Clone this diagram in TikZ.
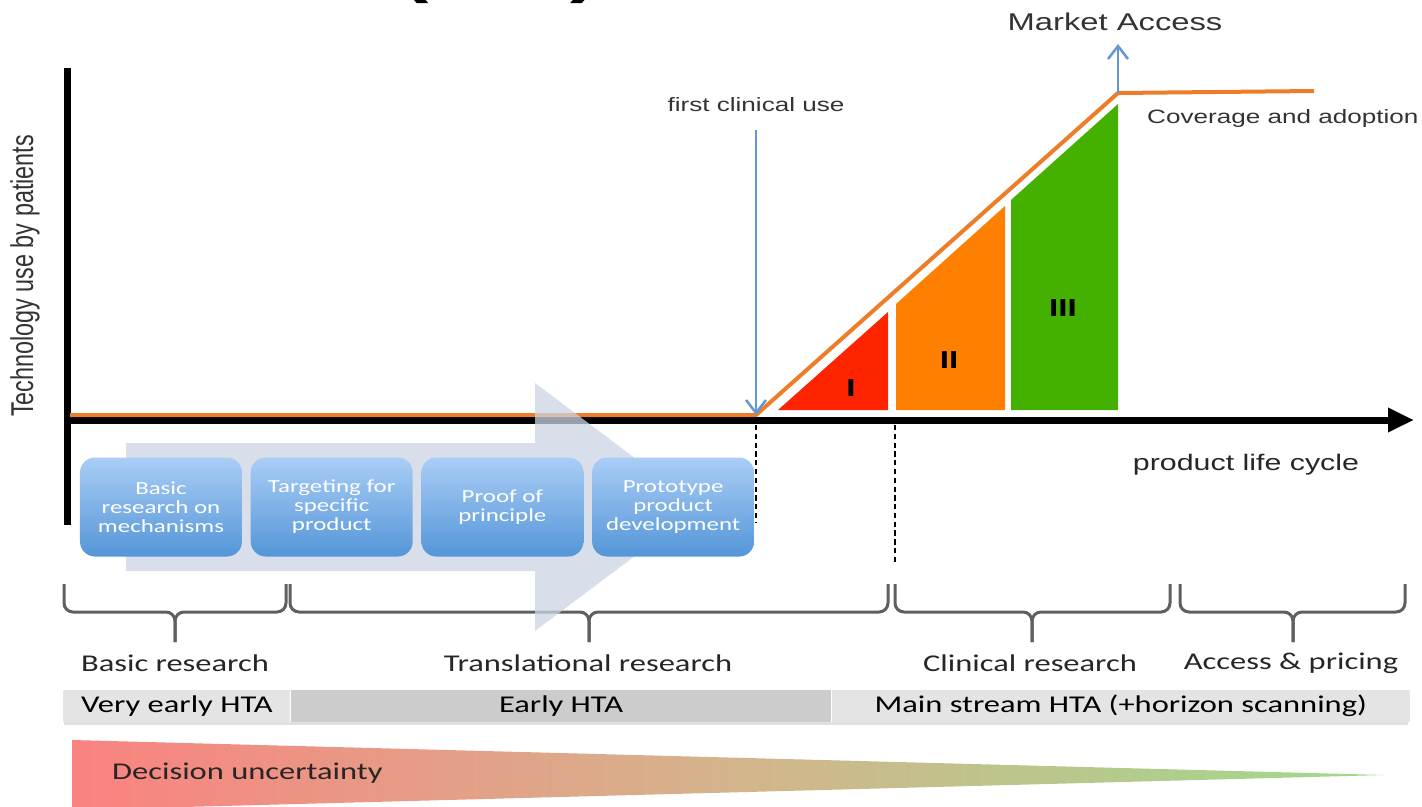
\documentclass[tikz,border=0pt]{standalone}
\usepackage{fontspec}
\setmainfont{Liberation Sans}
\newfontfamily\arialf[FakeStretch=1.35]{Liberation Sans}
\newfontfamily\calf[FakeStretch=1.35]{Carlito}
\usepackage{xcolor}
\usetikzlibrary{positioning,arrows.meta}

\definecolor{uptakeorange}{RGB}{237,125,40}
\definecolor{markerblue}{RGB}{100,152,210}
\definecolor{phaseone}{RGB}{255,36,0}
\definecolor{phasetwo}{RGB}{255,127,0}
\definecolor{phasethree}{RGB}{68,176,0}
\definecolor{flowgray}{RGB}{203,212,227}
\definecolor{boxtop}{RGB}{170,205,246}
\definecolor{boxbottom}{RGB}{84,150,216}
\definecolor{bracegray}{RGB}{95,95,95}
\definecolor{barlight}{RGB}{228,228,228}
\definecolor{bardark}{RGB}{204,204,204}
\definecolor{wedgeleft}{RGB}{250,130,128}
\definecolor{wedgemid}{RGB}{212,180,140}
\definecolor{wedgeright}{RGB}{158,218,140}

\begin{document}
\begin{tikzpicture}[x=0.2mm, y=-0.2mm,
    axis/.style={line width=1.4mm},
    uptake/.style={draw=uptakeorange, line width=0.8mm, line join=round},
    marker/.style={draw=markerblue, line width=0.5mm, -{Straight Barb[length=2.6mm,width=4mm]}},
    guide/.style={densely dashed, line width=0.3mm},
    stagebox/.style={rounded corners=3mm, top color=boxtop, bottom color=boxbottom,
        minimum width=32.4mm, minimum height=19.8mm, inner sep=1pt, align=center,
        text=white, font=\calf\fontsize{10.5}{10.8}\selectfont},
    phase/.style={draw=bracegray, line width=0.6mm, rounded corners=1.8mm},
    lbl/.style={font=\calf\fontsize{13.7}{14}\selectfont, text=black!85},
    toplbl/.style={font=\arialf\fontsize{11}{12}\selectfont, text=black!80},
    roman/.style={font=\arialf\bfseries\fontsize{14}{14}\selectfont},
    htabar/.style={minimum height=6.4mm, inner sep=0pt, anchor=west, font=\calf\fontsize{13.7}{14}\selectfont}
]
    \useasboundingbox (0,0) rectangle (1422,806);

    % Cut-off title
    \node[font=\arialf\bfseries\fontsize{36}{36}\selectfont, anchor=base] at (415,-10) {(};
    \node[font=\arialf\bfseries\fontsize{36}{36}\selectfont, anchor=base] at (585,-10) {)};

    % Key points
    \coordinate (origin) at (67,420);
    \coordinate (clin) at (756,415);
    \coordinate (ma) at (1118,93);
    \coordinate (matip) at (1118,44);

    % Phases I-III
    \fill[phaseone] (778,410) -- (888,410) -- (888,312) -- cycle;
    \fill[phasetwo] (896,410) -- (1005,410) -- (1005,206) -- (896,304) -- cycle;
    \fill[phasethree] (1011,410) -- (1118,410) -- (1118,104) -- (1011,200) -- cycle;
    \node[roman] (p1) at (851,388) {I};
    \node[roman] (p2) at (949,360) {II};
    \node[roman] (p3) at (1063,308) {III};

    % Axes
    \draw[axis] (67,68) -- (67,525);
    \draw[axis, -{Triangle[length=5.2mm,width=4.6mm]}] (origin) -- (1414,420);

    % Uptake curve
    \draw[uptake] (70,415) -- (clin) -- (ma) -- (1314,91);

    % Labels
    \node[font=\arialf\fontsize{13.8}{14}\selectfont, text=black!80] (malbl) at (1115,22) {Market Access};
    \node[toplbl] (fcu) at (756,105) {first clinical use};
    \node[toplbl, anchor=west] (cov) at (1141,118) {Coverage and adoption};
    \node[font=\arialf\fontsize{12.8}{13}\selectfont, text=black!85] (plc) at (1246,465) {product life cycle};
    \node[font=\fontsize{13.3}{14}\selectfont, text=black!80, rotate=90] (tup) at (25,276)
        {\scalebox{1}[1.35]{Technology use by patients}};

    \draw[marker] (ma) -- (matip);
    \draw[marker] (fcu.south) ++(0,12) -- (clin);

    % Dashed markers
    \draw[guide] (756,425) -- (756,523);
    \draw[guide] (895,425) -- (895,565);

    % Braces
    \foreach \a/\m/\b in {64/175/286, 290/589/888, 895/1032/1170, 1180/1293/1405} {
        \draw[phase] (\a,584) -- (\a,612) -- (\m,612) -- (\m,642);
        \draw[phase] (\b,584) -- (\b,612) -- (\m,612) -- (\m,642);
    }
    \node[lbl] (basic) at (175,663) {Basic research};
    \node[lbl] (trans) at (588,663) {Translational research};
    \node[lbl] (clinical) at (1030,663) {Clinical research};
    \node[lbl] (access) at (1291,663) {Access \& pricing};

    % Big process arrow
    \fill[flowgray, opacity=0.75] (126,443) -- (535,443) -- (535,383) -- (700,507)
        -- (535,631) -- (535,571) -- (126,571) -- cycle;

    % Stages
    \node[stagebox] (s1) at (161,507) {Basic\\research on\\mechanisms};
    \node[stagebox, right=1.6mm of s1] (s2) {Targeting for\\specific\\product};
    \node[stagebox, right=1.6mm of s2] (s3) {Proof of\\principle};
    \node[stagebox, right=1.6mm of s3] (s4) {Prototype\\product\\development};

    % HTA bar
    \fill[black!12] (64,722) rectangle (1408,725);
    \node[htabar, fill=barlight, minimum width=45.4mm] (vhta) at (63,706) {Very early HTA};
    \node[htabar, fill=bardark, minimum width=108mm, right=0pt of vhta] (ehta) {Early HTA};
    \node[htabar, fill=barlight, minimum width=115.6mm, right=0pt of ehta] (mhta) {Main stream HTA (+horizon scanning)};

    % Decision uncertainty
    \shade[left color=wedgeleft, right color=wedgeright, middle color=wedgemid]
        (72,740) -- (1385,775) -- (72,810) -- cycle;
    \node[lbl, anchor=west] (du) at (106,773) {Decision uncertainty};
\end{tikzpicture}
\end{document}
